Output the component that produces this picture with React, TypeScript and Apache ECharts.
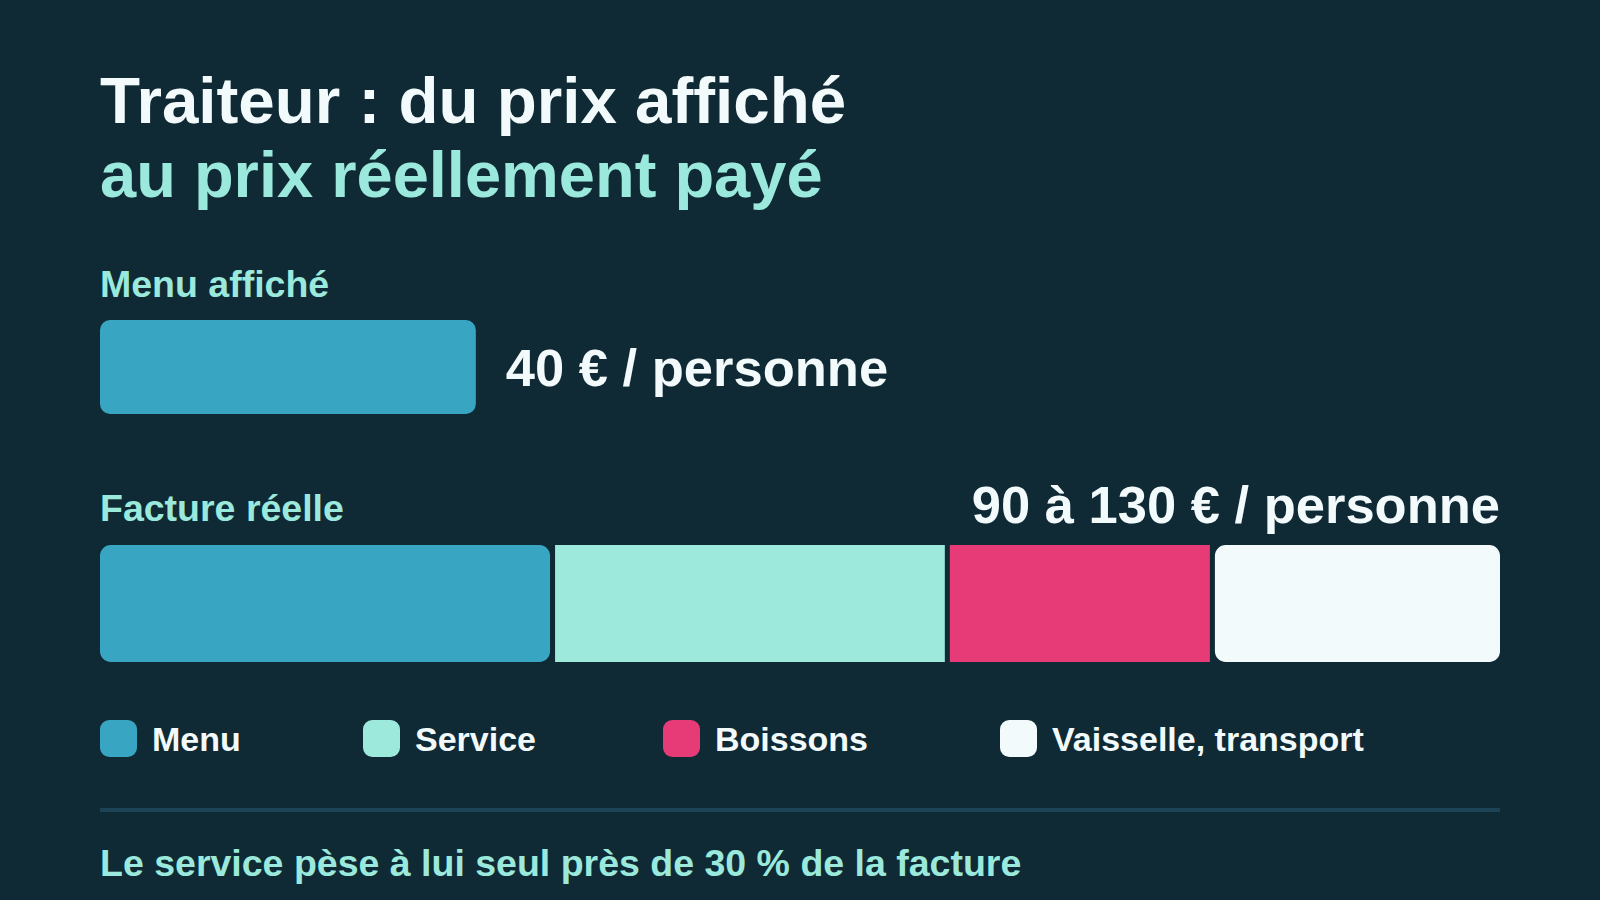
import React, { useEffect, useRef } from "react";
import * as echarts from "echarts";

// ---- data ----
const TITLE_LINES = ["Traiteur : du prix affiché", "au prix réellement payé"];
const SECTION_LABELS = ["Menu affiché", "Facture réelle"];
const AFFICHE_VALUES = [40];
const AFFICHE_SCALE_MAX = [149];
const SEGMENT_NAMES = ["Menu", "Service", "Boissons", "Vaisselle, transport"];
const SEGMENT_VALUES = [40, 34.7, 23.3, 25.5];
const RANGE_VALUES = [90, 130];
const FOOTER_TEXT = ["Le service pèse à lui seul près de 30 % de la facture"];

// ---- styles ----
const BG = "#0f2a35";
const WHITE = "#f2fafb";
const TEAL = "#9be9dc";
const SEG_COLORS = ["#38a6c3", "#9de9dc", "#e63b77", "#f2fafb"];
const SEG_RADII = [12, 0, 0, 12];
const LEGEND_LEFT = [100, 363, 663, 1000];
const FONT = '"Liberation Sans", Arial, Helvetica, sans-serif';

function txt(text: string, x: number, y: number, size: number, fill: string, align = "left") {
  return {
    type: "text",
    silent: true,
    style: {
      text,
      x,
      y,
      fill,
      font: `bold ${size}px ${FONT}`,
      textAlign: align,
      align,
      textVerticalAlign: "middle",
      verticalAlign: "middle",
    },
  };
}

export default function App() {
  const ref = useRef<HTMLDivElement>(null);

  useEffect(() => {
    if (!ref.current) return;
    const chart = echarts.init(ref.current, null, { renderer: "svg" });
    const total = SEGMENT_VALUES.reduce((a, b) => a + b, 0);

    const option: any = {
      animation: false,
      backgroundColor: BG,
      textStyle: { fontFamily: FONT },
      grid: [
        { left: 100, top: 320, width: 1400, height: 94 },
        { left: 97.5, top: 542.5, width: 1405, height: 122 },
      ],
      xAxis: [
        { gridIndex: 0, type: "value", min: 0, max: AFFICHE_SCALE_MAX[0], show: false },
        { gridIndex: 1, type: "value", min: 0, max: total, show: false },
      ],
      yAxis: [
        { gridIndex: 0, type: "category", data: [SECTION_LABELS[0]], show: false },
        { gridIndex: 1, type: "category", data: [SECTION_LABELS[1]], show: false },
      ],
      legend: SEGMENT_NAMES.map((name, i) => ({
        data: [name],
        left: LEGEND_LEFT[i],
        top: 720,
        orient: "horizontal",
        icon: "roundRect",
        itemWidth: 37,
        itemHeight: 37,
        padding: 0,
        selectedMode: false,
        itemStyle: { borderWidth: 0, color: SEG_COLORS[i] },
        textStyle: {
          color: WHITE,
          fontSize: 34,
          fontWeight: "bold",
          fontFamily: FONT,
          padding: [0, 0, 0, 10],
        },
      })),
      series: [
        {
          type: "bar",
          name: SECTION_LABELS[0],
          xAxisIndex: 0,
          yAxisIndex: 0,
          silent: true,
          barWidth: 94,
          data: AFFICHE_VALUES,
          itemStyle: { color: SEG_COLORS[0], borderRadius: 10 },
          label: {
            show: true,
            position: "right",
            distance: 30,
            formatter: (p: any) => `${p.value} € / personne`,
            color: WHITE,
            fontSize: 52.5,
            fontWeight: "bold",
            fontFamily: FONT,
          },
        },
        ...SEGMENT_NAMES.map((name, i) => ({
          type: "bar",
          name,
          xAxisIndex: 1,
          yAxisIndex: 1,
          stack: "facture",
          silent: true,
          barWidth: 122,
          data: [SEGMENT_VALUES[i]],
          itemStyle: {
            color: SEG_COLORS[i],
            borderColor: BG,
            borderWidth: 2.5,
            borderRadius: SEG_RADII[i],
          },
        })),
      ],
      graphic: [
        txt(TITLE_LINES[0], 100, 100, 65.5, WHITE),
        txt(TITLE_LINES[1], 100, 174.5, 65, TEAL),
        txt(SECTION_LABELS[0], 100, 284, 37.5, TEAL),
        txt(SECTION_LABELS[1], 100, 508, 37.5, TEAL),
        txt(`${RANGE_VALUES[0]} à ${RANGE_VALUES[1]} € / personne`, 1500, 504.5, 52.5, WHITE, "right"),
        {
          type: "rect",
          silent: true,
          shape: { x: 100, y: 808, width: 1400, height: 4 },
          style: { fill: "#1d4456" },
        },
        txt(FOOTER_TEXT[0], 100, 862.5, 37.5, TEAL),
      ],
    };

    chart.setOption(option);
    return () => chart.dispose();
  }, []);

  return (
    <div
      ref={ref}
      style={{ position: "fixed", left: 0, top: 0, width: 1600, height: 900 }}
    />
  );
}
